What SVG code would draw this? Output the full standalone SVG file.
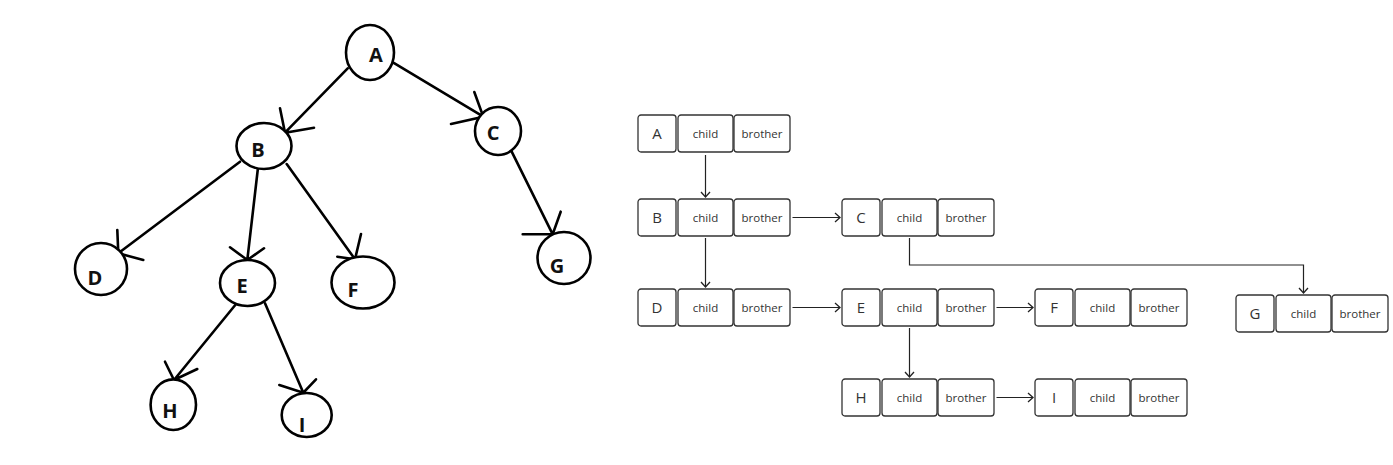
<svg xmlns="http://www.w3.org/2000/svg" width="1393" height="465" viewBox="0 0 1393 465">
<style>
.tn{fill:#fff;stroke:#000;stroke-width:2.6}
.tl{font-family:"Open Sans","Liberation Sans",sans-serif;font-weight:bold;font-size:20px;fill:#111}
.te{fill:none;stroke:#000;stroke-width:2.6;stroke-linecap:round}
.cell{fill:#fff;stroke:#333;stroke-width:1.3}
.nm{font-family:"Open Sans","Liberation Sans",sans-serif;font-size:15px;fill:#333;text-anchor:middle}
.fd{font-family:"Open Sans","Liberation Sans",sans-serif;font-size:11.5px;fill:#333;text-anchor:middle}
.lk{fill:none;stroke:#222;stroke-width:1.2}
</style>
<defs>
<marker id="ah" markerUnits="userSpaceOnUse" markerWidth="12" markerHeight="12" refX="9" refY="6" orient="auto">
<path d="M4,1.5 L9,6 L4,10.5" fill="none" stroke="#222" stroke-width="1.3"/>
</marker>
<g id="rec">
<rect class="cell" x="0" y="0" width="38" height="37" rx="3"/>
<rect class="cell" x="40" y="0" width="55" height="37" rx="3"/>
<rect class="cell" x="96" y="0" width="56" height="37" rx="3"/>
<text class="fd" x="67.5" y="22.5">child</text>
<text class="fd" x="124" y="22.5">brother</text>
</g>
</defs>
<rect width="1393" height="465" fill="#fff"/>
<!-- tree -->
<g id="tree-edges">
<path class="te" d="M347.7,68.3 L285,132.7 M280,108.3 L285,132.7 L314,127.7"/>
<path class="te" d="M393.3,62.7 L483.3,116.7 M474.3,92 L483.3,116.7 L451,124"/>
<path class="te" d="M240,161.7 L118.3,253.3 M117.3,230 L118.3,253.3 L143.3,260"/>
<path class="te" d="M258.3,165 L247.3,260 M230,247.3 L247.3,260 L264,248.3"/>
<path class="te" d="M286.7,164 L355,259.3 M361,234 L355,259.3 L337.3,256.7"/>
<path class="te" d="M511.7,151.7 L552.7,234.3 M560.7,211.7 L552.7,234.3 L522.7,234.3"/>
<path class="te" d="M236.7,303.3 L174,380 M165,361.7 L174,380 L197.3,369"/>
<path class="te" d="M265,303.3 L303.3,392.7 M279.3,385 L303.3,392.7 L316,379.3"/>
</g>
<g id="tA"><ellipse class="tn" cx="370" cy="52.5" rx="24" ry="27.5"/><text class="tl" x="376" y="62" text-anchor="middle">A</text></g>
<g id="tB"><ellipse class="tn" cx="264" cy="146" rx="27.5" ry="23"/><text class="tl" x="258" y="157" text-anchor="middle">B</text></g>
<g id="tC"><ellipse class="tn" cx="498" cy="131" rx="23" ry="24"/><text class="tl" x="493" y="140" text-anchor="middle">C</text></g>
<g id="tD"><ellipse class="tn" cx="101" cy="269" rx="26" ry="26"/><text class="tl" x="95" y="285" text-anchor="middle">D</text></g>
<g id="tE"><ellipse class="tn" cx="247.5" cy="283" rx="27.5" ry="23"/><text class="tl" x="242" y="293" text-anchor="middle">E</text></g>
<g id="tF"><ellipse class="tn" cx="363" cy="282.5" rx="31.5" ry="26"/><text class="tl" x="353" y="297" text-anchor="middle">F</text></g>
<g id="tG"><ellipse class="tn" cx="564" cy="258" rx="26.5" ry="26"/><text class="tl" x="557" y="273" text-anchor="middle">G</text></g>
<g id="tH"><ellipse class="tn" cx="173.3" cy="404.7" rx="22.7" ry="25.3"/><text class="tl" x="170" y="418" text-anchor="middle">H</text></g>
<g id="tI"><ellipse class="tn" cx="306.7" cy="415" rx="25" ry="22"/><text class="tl" x="302" y="432" text-anchor="middle">I</text></g>
<!-- child-brother structure -->
<g id="links">
<path class="lk" marker-end="url(#ah)" d="M705.5,155 L705.5,197"/>
<path class="lk" marker-end="url(#ah)" d="M705.5,238 L705.5,287"/>
<path class="lk" marker-end="url(#ah)" d="M792.5,217.5 L840,217.5"/>
<path class="lk" marker-end="url(#ah)" d="M909.5,238 L909.5,265 L1303.5,265 L1303.5,293"/>
<path class="lk" marker-end="url(#ah)" d="M792.5,307.5 L840,307.5"/>
<path class="lk" marker-end="url(#ah)" d="M996.5,307.5 L1033,307.5"/>
<path class="lk" marker-end="url(#ah)" d="M909.5,328 L909.5,377"/>
<path class="lk" marker-end="url(#ah)" d="M996.5,397.5 L1033,397.5"/>
</g>
<g id="nA" transform="translate(638,115)"><use href="#rec"/><text class="nm" x="19" y="24">A</text></g>
<g id="nB" transform="translate(638,199)"><use href="#rec"/><text class="nm" x="19" y="24">B</text></g>
<g id="nC" transform="translate(842,199)"><use href="#rec"/><text class="nm" x="19" y="24">C</text></g>
<g id="nD" transform="translate(638,289)"><use href="#rec"/><text class="nm" x="19" y="24">D</text></g>
<g id="nE" transform="translate(842,289)"><use href="#rec"/><text class="nm" x="19" y="24">E</text></g>
<g id="nF" transform="translate(1035,289)"><use href="#rec"/><text class="nm" x="19" y="24">F</text></g>
<g id="nG" transform="translate(1236,295)"><use href="#rec"/><text class="nm" x="19" y="24">G</text></g>
<g id="nH" transform="translate(842,379)"><use href="#rec"/><text class="nm" x="19" y="24">H</text></g>
<g id="nI" transform="translate(1035,379)"><use href="#rec"/><text class="nm" x="19" y="24">I</text></g>
</svg>
